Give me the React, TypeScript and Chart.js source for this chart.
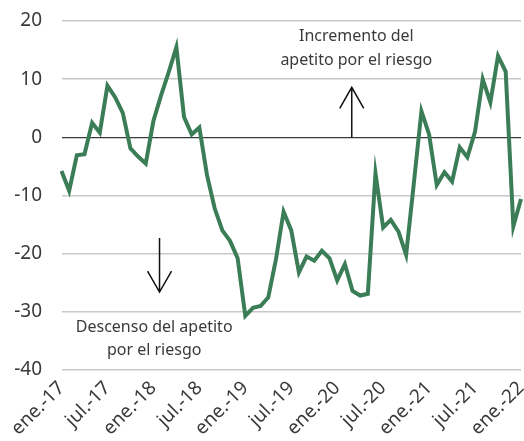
import React, { useEffect, useRef } from "react";
import { Chart, registerables } from "chart.js";

Chart.register(...registerables);

// ---- Data ----
const MONTHS = ["ene.", "feb.", "mar.", "abr.", "may.", "jun.", "jul.", "ago.", "sep.", "oct.", "nov.", "dic."];
const YEARS = ["17", "18", "19", "20", "21", "22"];
const N_POINTS = 61; // ene.-17 .. ene.-22

const categories: string[] = [];
for (const y of YEARS) {
  for (const m of MONTHS) {
    if (categories.length < N_POINTS) categories.push(`${m}-${y}`);
  }
}

const values: number[] = [
  -5.8, -9.2, -3.1, -2.9, 2.5, 0.8, 8.9, 6.9, 4.2, -1.9, -3.3, -4.5,
  2.8, 7.2, 11.2, 15.5, 3.5, 0.5, 1.7, -6.5, -12.2, -16.0, -17.8, -20.8,
  -30.7, -29.3, -29.0, -27.5, -21.0, -12.8, -16.0, -23.2, -20.5, -21.2, -19.5, -20.8,
  -24.6, -21.8, -26.4, -27.2, -26.9, -6.2, -15.5, -14.2, -16.2, -20.2, -8.0, 4.5,
  0.5, -8.2, -6.0, -7.6, -1.7, -3.4, 1.0, 10.0, 6.0, 14.0, 11.3, -15.3,
  -10.6,
];

const Y_MIN = -40;
const Y_MAX = 20;
const Y_STEP = 10;
const LABEL_EVERY = 6;

const upText = ["Incremento del", "apetito por el riesgo"];
const downText = ["Descenso del apetito", "por el riesgo"];

const FONT = "'Noto Sans', sans-serif";
const TEXT_COLOR = "#3a3a3a";
const LINE_COLOR = "#3b7d57";

// Annotation anchors in data units (x index, y value)
const UP_ARROW = { x: 37.9, from: 0.0, to: 8.6 };
const UP_TEXT = { x: 38.5, y: [17.3, 13.3] };
const DOWN_ARROW = { x: 12.8, from: -17.3, to: -26.6 };
const DOWN_TEXT = { x: 12.1, y: [-32.6, -36.7] };

const annotationPlugin = {
  id: "annotations",
  afterDraw(chart: any) {
    const { ctx } = chart;
    const xs = chart.scales.x;
    const ys = chart.scales.y;
    ctx.save();
    ctx.strokeStyle = "#111";
    ctx.lineWidth = 1.5;
    const arrow = (a: { x: number; from: number; to: number }) => {
      const px = xs.getPixelForValue(a.x);
      const y0 = ys.getPixelForValue(a.from);
      const y1 = ys.getPixelForValue(a.to);
      const dir = y1 < y0 ? 1 : -1;
      ctx.beginPath();
      ctx.moveTo(px, y0);
      ctx.lineTo(px, y1);
      ctx.moveTo(px - 12, y1 + dir * 21);
      ctx.lineTo(px, y1);
      ctx.lineTo(px + 12, y1 + dir * 21);
      ctx.stroke();
    };
    arrow(UP_ARROW);
    arrow(DOWN_ARROW);

    ctx.fillStyle = TEXT_COLOR;
    ctx.font = `16px ${FONT}`;
    ctx.textAlign = "center";
    ctx.textBaseline = "middle";
    upText.forEach((t, i) => ctx.fillText(t, xs.getPixelForValue(UP_TEXT.x), ys.getPixelForValue(UP_TEXT.y[i])));
    downText.forEach((t, i) => ctx.fillText(t, xs.getPixelForValue(DOWN_TEXT.x), ys.getPixelForValue(DOWN_TEXT.y[i])));
    ctx.restore();
  },
};

export default function App() {
  const canvasRef = useRef<HTMLCanvasElement>(null);

  useEffect(() => {
    document.body.style.margin = "0";
    document.body.style.overflow = "hidden";
    const chart = new Chart(canvasRef.current!, {
      type: "line",
      data: {
        labels: categories,
        datasets: [
          {
            data: values,
            borderColor: LINE_COLOR,
            borderWidth: 4,
            pointRadius: 0,
            tension: 0,
            fill: false,
          },
        ],
      },
      options: {
        animation: false,
        responsive: false,
        maintainAspectRatio: false,
        layout: { padding: { top: 21, right: 3, left: 0, bottom: 0 } },
        plugins: { legend: { display: false }, tooltip: { enabled: false } },
        scales: {
          x: {
            type: "category",
            offset: false,
            grid: { display: false, drawTicks: false },
            border: { display: false },
            ticks: {
              autoSkip: false,
              minRotation: 45,
              maxRotation: 45,
              padding: 7,
              color: TEXT_COLOR,
              font: { family: FONT, size: 19 },
              callback: (_v: any, i: number) => (i % LABEL_EVERY === 0 ? categories[i] : ""),
            },
            afterFit: (s: any) => {
              s.height = 71;
              s.paddingLeft = 0;
              s.paddingRight = 0;
            },
          },
          y: {
            min: Y_MIN,
            max: Y_MAX,
            grid: {
              drawTicks: false,
              color: (c: any) => (c.tick && c.tick.value === 0 ? "#3a3a3a" : "#c8c8c8"),
              lineWidth: (c: any) => (c.tick && c.tick.value === 0 ? 1.2 : 1.6),
            },
            border: { display: false },
            ticks: {
              stepSize: Y_STEP,
              padding: 19.5,
              color: TEXT_COLOR,
              font: { family: FONT, size: 19 },
            },
            afterFit: (s: any) => {
              s.width = 61.5;
              s.paddingTop = 0;
              s.paddingBottom = 0;
            },
          },
        },
      },
      plugins: [annotationPlugin],
    });
    return () => chart.destroy();
  }, []);

  return (
    <div style={{ width: 524, height: 441 }}>
      <canvas ref={canvasRef} width={524} height={441} style={{ display: "block" }} />
    </div>
  );
}
